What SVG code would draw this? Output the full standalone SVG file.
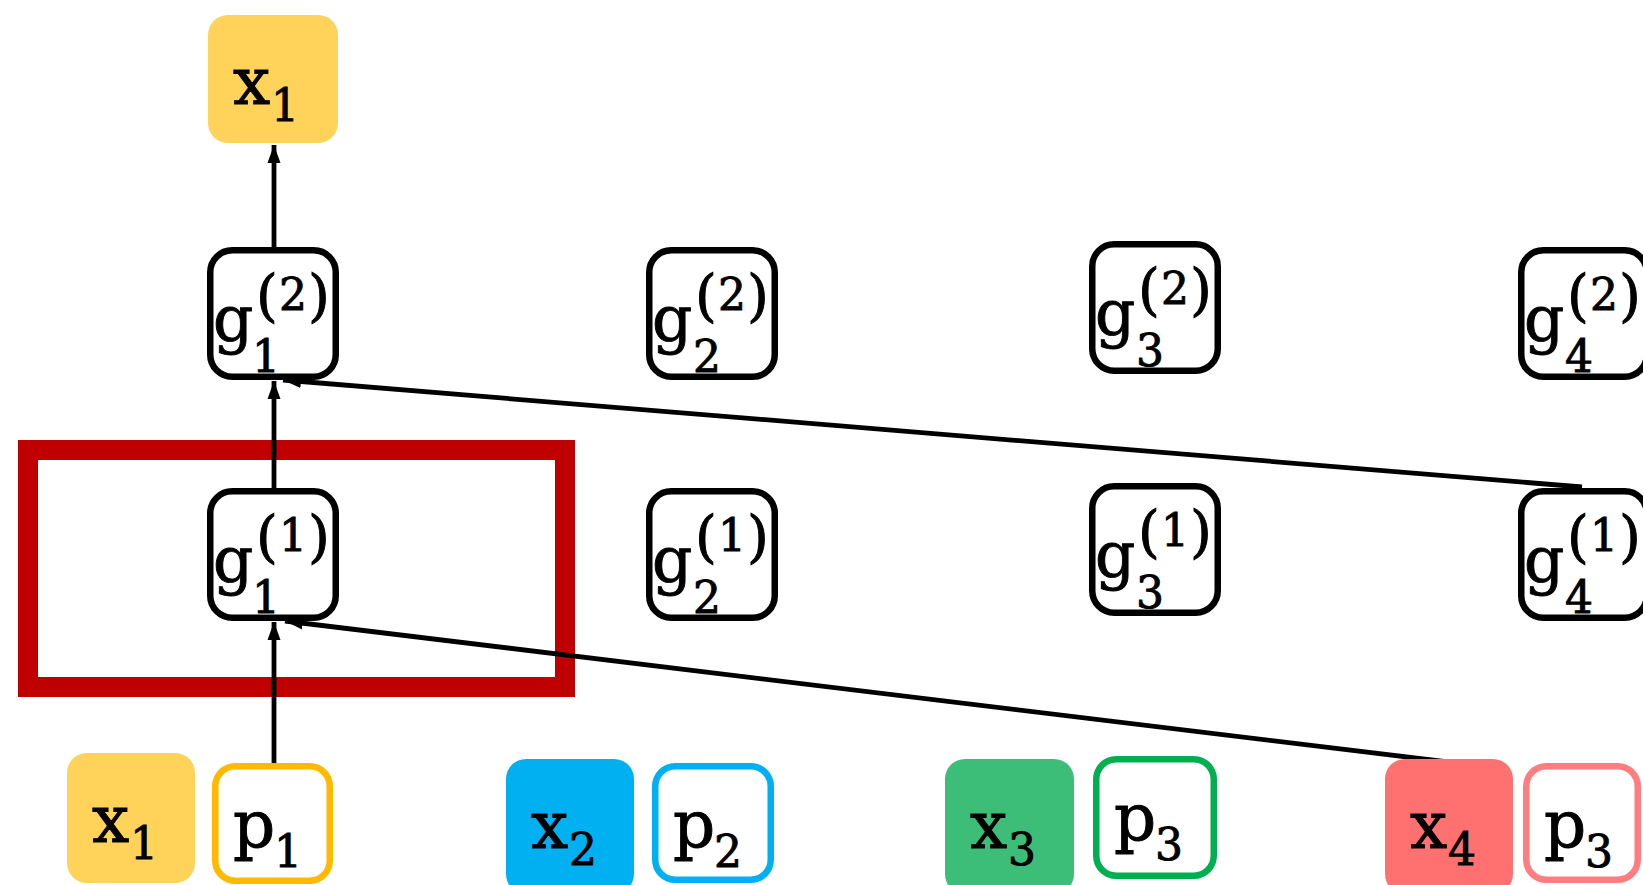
<svg xmlns="http://www.w3.org/2000/svg" width="1643" height="885" viewBox="0 0 1643 885">
  <style>
    text { font-family: "DejaVu Serif", "Liberation Serif", serif; fill: #000; stroke: #000; stroke-width: 0.9; }
    .main { font-size: 66px; }
    .gmain { font-size: 63px; }
    .sub { font-size: 44px; }
    .sup { font-size: 44px; }
    .par { font-size: 56px; }
    .gbox { fill: #fff; stroke: #000; stroke-width: 6.5; }
    .conn { stroke: #000; stroke-width: 4.8; fill: none; }
    .pbox { fill: #fff; stroke-width: 6.5; }
  </style>
  <defs>
    <marker id="arrow" markerUnits="userSpaceOnUse" markerWidth="19" markerHeight="14" refX="18" refY="7" orient="auto">
      <path d="M0,0.5 L18,7 L0,13.5 Z" fill="#000"/>
    </marker>
  </defs>

  <!-- highlight frame around the first layer-1 unit -->
  <rect id="highlight" x="28" y="450" width="537" height="237" fill="none" stroke="#C00000" stroke-width="20"/>

  <!-- connectors -->
  <g id="connectors">
    <line class="conn" x1="274" y1="247" x2="274" y2="145" marker-end="url(#arrow)"/>
    <line class="conn" x1="274" y1="488" x2="274" y2="381" marker-end="url(#arrow)"/>
    <line class="conn" x1="1582" y1="487" x2="283" y2="380" marker-end="url(#arrow)"/>
    <line class="conn" x1="274" y1="763" x2="274" y2="622" marker-end="url(#arrow)"/>
    <line class="conn" x1="1448" y1="762" x2="285" y2="621" marker-end="url(#arrow)"/>
  </g>

  <!-- output token -->
  <g id="out-x1">
    <rect x="208" y="15" width="130" height="128" rx="20" fill="#FFD25A"/>
    <text class="main" x="233" y="104">x</text>
    <text class="sub" x="271" y="121">1</text>
  </g>

  <!-- layer 2 units -->
  <g id="g1-2">
    <rect class="gbox" x="210.25" y="250.25" width="125.5" height="126.5" rx="22"/>
    <text class="gmain" x="213" y="341">g</text>
    <text class="sup"><tspan class="par" x="256" y="315">(</tspan><tspan x="279" y="310">2</tspan><tspan class="par" x="308" y="315">)</tspan></text>
    <text class="sub" x="252" y="372">1</text>
  </g>
  <g id="g2-2">
    <rect class="gbox" x="649.25" y="250.25" width="125.5" height="126.5" rx="22"/>
    <text class="gmain" x="652" y="341">g</text>
    <text class="sup"><tspan class="par" x="695" y="315">(</tspan><tspan x="718" y="310">2</tspan><tspan class="par" x="747" y="315">)</tspan></text>
    <text class="sub" x="693" y="372">2</text>
  </g>
  <g id="g3-2">
    <rect class="gbox" x="1092.25" y="244.25" width="125.5" height="126.5" rx="22"/>
    <text class="gmain" x="1095" y="335">g</text>
    <text class="sup"><tspan class="par" x="1138" y="309">(</tspan><tspan x="1161" y="304">2</tspan><tspan class="par" x="1190" y="309">)</tspan></text>
    <text class="sub" x="1136" y="366">3</text>
  </g>
  <g id="g4-2">
    <rect class="gbox" x="1521.25" y="250.25" width="125.5" height="126.5" rx="22"/>
    <text class="gmain" x="1524" y="341">g</text>
    <text class="sup"><tspan class="par" x="1567" y="315">(</tspan><tspan x="1590" y="310">2</tspan><tspan class="par" x="1619" y="315">)</tspan></text>
    <text class="sub" x="1565" y="372">4</text>
  </g>

  <!-- layer 1 units -->
  <g id="g1-1">
    <rect class="gbox" x="210.25" y="491.25" width="125.5" height="126.5" rx="22"/>
    <text class="gmain" x="213" y="582">g</text>
    <text class="sup"><tspan class="par" x="256" y="556">(</tspan><tspan x="279" y="551">1</tspan><tspan class="par" x="308" y="556">)</tspan></text>
    <text class="sub" x="252" y="613">1</text>
  </g>
  <g id="g2-1">
    <rect class="gbox" x="649.25" y="491.25" width="125.5" height="126.5" rx="22"/>
    <text class="gmain" x="652" y="582">g</text>
    <text class="sup"><tspan class="par" x="695" y="556">(</tspan><tspan x="718" y="551">1</tspan><tspan class="par" x="747" y="556">)</tspan></text>
    <text class="sub" x="693" y="613">2</text>
  </g>
  <g id="g3-1">
    <rect class="gbox" x="1092.25" y="486.25" width="125.5" height="126.5" rx="22"/>
    <text class="gmain" x="1095" y="577">g</text>
    <text class="sup"><tspan class="par" x="1138" y="551">(</tspan><tspan x="1161" y="546">1</tspan><tspan class="par" x="1190" y="551">)</tspan></text>
    <text class="sub" x="1136" y="608">3</text>
  </g>
  <g id="g4-1">
    <rect class="gbox" x="1521.25" y="491.25" width="125.5" height="126.5" rx="22"/>
    <text class="gmain" x="1524" y="582">g</text>
    <text class="sup"><tspan class="par" x="1567" y="556">(</tspan><tspan x="1590" y="551">1</tspan><tspan class="par" x="1619" y="556">)</tspan></text>
    <text class="sub" x="1565" y="613">4</text>
  </g>

  <!-- input tokens and positions -->
  <g id="in-x1">
    <rect x="67" y="753" width="128" height="130" rx="20" fill="#FFD25A"/>
    <text class="main" x="92" y="842">x</text>
    <text class="sub" x="130" y="859">1</text>
  </g>
  <g id="in-p1">
    <rect class="pbox" x="215.25" y="766.25" width="114.5" height="114.5" rx="20" stroke="#FFBA00"/>
    <text class="main" x="233" y="847">p</text>
    <text class="sub" x="274" y="867">1</text>
  </g>
  <g id="in-x2">
    <rect x="506" y="759" width="128" height="135" rx="20" fill="#00B0F0"/>
    <text class="main" x="531" y="848">x</text>
    <text class="sub" x="569" y="865">2</text>
  </g>
  <g id="in-p2">
    <rect class="pbox" x="655.25" y="766.25" width="115.5" height="113.5" rx="20" stroke="#00B0F0"/>
    <text class="main" x="673" y="847">p</text>
    <text class="sub" x="714" y="867">2</text>
  </g>
  <g id="in-x3">
    <rect x="945" y="759" width="129" height="135" rx="20" fill="#3DBE78"/>
    <text class="main" x="970" y="848">x</text>
    <text class="sub" x="1008" y="865">3</text>
  </g>
  <g id="in-p3a">
    <rect class="pbox" x="1096.25" y="759.25" width="117.5" height="116.5" rx="20" stroke="#00B050"/>
    <text class="main" x="1114" y="840">p</text>
    <text class="sub" x="1155" y="860">3</text>
  </g>
  <g id="in-x4">
    <rect x="1385" y="759" width="128" height="135" rx="20" fill="#FF7070"/>
    <text class="main" x="1410" y="848">x</text>
    <text class="sub" x="1448" y="865">4</text>
  </g>
  <g id="in-p3b">
    <rect class="pbox" x="1526.25" y="766.25" width="111.5" height="113.5" rx="20" stroke="#FF7C80"/>
    <text class="main" x="1544" y="847">p</text>
    <text class="sub" x="1585" y="867">3</text>
  </g>
</svg>
